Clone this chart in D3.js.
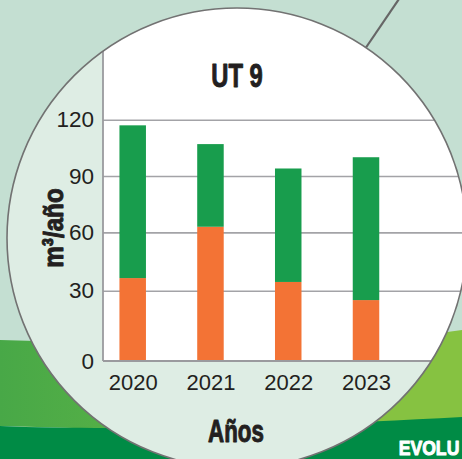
<!DOCTYPE html>
<html>
<head>
<meta charset="utf-8">
<script src="https://cdn.jsdelivr.net/npm/d3@7"></script>
<style>
  html, body { margin: 0; padding: 0; background: #c4dfd2; }
  svg { display: block; }
  .tick text { font-family: "Liberation Sans", Arial, sans-serif; fill: #231f20; }
  .cond { font-family: "Liberation Sans", Arial, sans-serif; font-weight: 700; fill: #231f20; }
</style>
</head>
<body>
<svg id="chart" width="462" height="459"></svg>
<script>
// Annual volumes (m³/año) for UT 9, stacked: orange at the base, green on top
const years = ["2020", "2021", "2022", "2023"];
const orangeValues = [36.5, 63, 34.5, 26];
const greenValues = [80.5, 44, 59.5, 74];
const yTicks = [0, 30, 60, 90, 120];
const titleText = "UT 9";
const yTitle = "m³/año";
const xTitle = "Años";

const W = 462, H = 459;
const svg = d3.select("#chart");

// lens geometry
const cx = 237, cy = 238, r = 230;
const plotLeft = 103, baseY = 361;

// condensed heavy label: horizontal squeeze of a bold face, thickened with a thin stroke
function condText(parent, x, y, size, sx, txt, rotate, color) {
  const c = color || "#231f20";
  const grp = parent.append("g")
    .attr("transform", `translate(${x},${y})` + (rotate ? ` rotate(${rotate})` : "") + ` scale(${sx},1)`);
  return grp.append("text").attr("class", "cond").attr("text-anchor", "middle")
    .attr("font-size", size).style("fill", c)
    .attr("stroke", c).attr("stroke-width", 1).attr("stroke-linejoin", "round")
    .text(txt);
}

// background with the green landscape bands
svg.append("rect").attr("width", W).attr("height", H).attr("fill", "#c4dfd2");
const defs = svg.append("defs");
const lg = defs.append("linearGradient").attr("id", "leftGreen").attr("x1", "0").attr("x2", "1");
lg.append("stop").attr("offset", "0").attr("stop-color", "#48a847");
lg.append("stop").attr("offset", "1").attr("stop-color", "#60b646");
svg.append("path").attr("d", "M0,340 L220,346 L220,432 L0,426 Z").attr("fill", "url(#leftGreen)");
svg.append("path").attr("d", "M300,352 L462,330 L462,420 L300,426 Z").attr("fill", "#86c241");
svg.append("path").attr("d", "M0,426 C120,431 300,426 462,417 L462,459 L0,459 Z").attr("fill", "#008b45");

// heading peeking at the bottom right
condText(svg, 429, 454.5, 21, 0.84, "EVOLU", null, "#ffffff");

// lens handle line
svg.append("line").attr("x1", 399).attr("y1", -1).attr("x2", 365).attr("y2", 49)
  .attr("stroke", "#666666").attr("stroke-width", 2.2);

defs.append("clipPath").attr("id", "lens")
  .append("circle").attr("cx", cx).attr("cy", cy).attr("r", r);

svg.append("circle").attr("cx", cx).attr("cy", cy).attr("r", r).attr("fill", "#deede4");

const g = svg.append("g").attr("clip-path", "url(#lens)");
g.append("rect").attr("x", plotLeft).attr("y", 0)
  .attr("width", W + 20 - plotLeft).attr("height", baseY).attr("fill", "#ffffff");

// scales
const y = d3.scaleLinear().domain(yTicks).range([361, 290.7, 232.4, 176, 119.7]);
const x = d3.scalePoint().domain(years).range([132.7, 366]);
const barW = 26.5;

// gridlines
const grid = g.append("g").attr("transform", `translate(${plotLeft},0)`)
  .call(d3.axisLeft(y).tickValues(yTicks.slice(1)).tickSize(-(W + 20 - plotLeft)).tickFormat(""));
grid.select(".domain").remove();
grid.selectAll(".tick line").attr("stroke", "#a3a3a7").attr("stroke-width", 1.6);

// stacked bars
const rows = years.map((yr, i) => ({ year: yr, orange: orangeValues[i], green: greenValues[i] }));
const stack = d3.stack().keys(["orange", "green"])(rows);
const colors = { orange: "#f37335", green: "#189d4d" };
stack.forEach(layer => {
  g.append("g").selectAll("rect").data(layer).join("rect")
    .attr("x", d => x(d.data.year) - barW / 2)
    .attr("width", barW)
    .attr("y", d => y(d[1]))
    .attr("height", d => y(d[0]) - y(d[1]))
    .attr("fill", colors[layer.key]);
});

// axis lines
g.append("line").attr("x1", plotLeft).attr("x2", plotLeft).attr("y1", 0).attr("y2", baseY)
  .attr("stroke", "#9a9a9e").attr("stroke-width", 1.8);
g.append("line").attr("x1", plotLeft).attr("x2", W + 20).attr("y1", baseY).attr("y2", baseY)
  .attr("stroke", "#9a9a9e").attr("stroke-width", 1.8);

svg.append("circle").attr("cx", cx).attr("cy", cy).attr("r", r)
  .attr("fill", "none").attr("stroke", "#727272").attr("stroke-width", 1.6);

// tick labels
const yAxis = svg.append("g").attr("transform", `translate(${plotLeft},0)`)
  .call(d3.axisLeft(y).tickValues(yTicks).tickSize(0).tickPadding(9));
yAxis.select(".domain").remove();
yAxis.selectAll("text").attr("font-size", 22.5).attr("font-family", null);

const xAxis = svg.append("g").attr("transform", `translate(0,${baseY})`)
  .call(d3.axisBottom(x).tickSize(0).tickPadding(13));
xAxis.select(".domain").remove();
xAxis.selectAll("text").attr("font-size", 22).attr("font-family", null);

// titles
condText(svg, 237, 87.3, 33, 0.72, titleText);
condText(svg, 236, 441.7, 31, 0.72, xTitle);
condText(svg, 63, 228, 28.5, 0.85, yTitle, -90);
</script>
</body>
</html>
